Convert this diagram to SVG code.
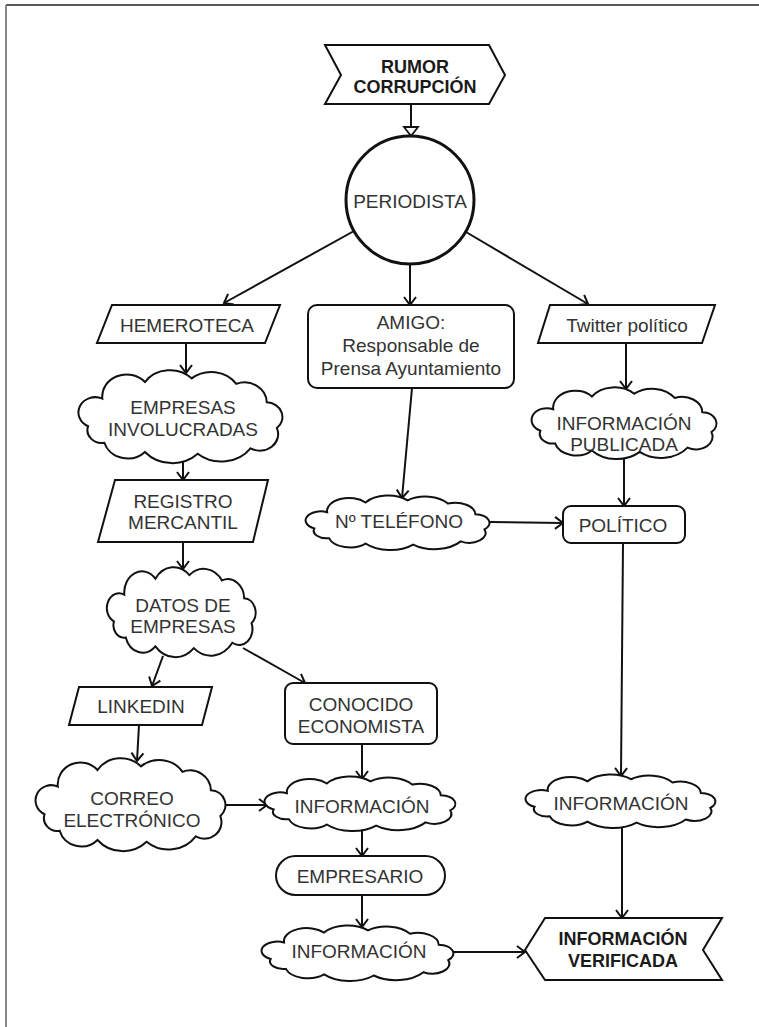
<svg xmlns="http://www.w3.org/2000/svg" xmlns:xlink="http://www.w3.org/1999/xlink" width="759" height="1027" viewBox="0 0 759 1027">
<style>
.shape{fill:#fff;stroke:#111;stroke-width:2}
.cl{fill:#fff;stroke:#111;stroke-width:2;vector-effect:non-scaling-stroke}
.t{font-family:"Liberation Sans",Arial,sans-serif;font-size:19px;fill:#333;text-anchor:middle}
.b{font-weight:bold;fill:#1a1a1a;font-size:18px}
.c{stroke:#111;stroke-width:2;fill:none;marker-end:url(#arr)}
</style>
<defs>
<marker id="arr" markerUnits="userSpaceOnUse" viewBox="-11 -8 13 16" markerWidth="13" markerHeight="16" refX="0" refY="0" orient="auto">
<path d="M-8,-6 L0,0 L-8,6" fill="none" stroke="#111" stroke-width="2"/>
</marker>
<marker id="tri" markerUnits="userSpaceOnUse" viewBox="-12 -9 14 18" markerWidth="14" markerHeight="18" refX="0" refY="0" orient="auto">
<path d="M-9,-7 L0,0 L-9,7 Z" fill="#fff" stroke="#111" stroke-width="1.8"/>
</marker>
<symbol id="cloud" viewBox="0 0 200 100" preserveAspectRatio="none" overflow="visible">
<path class="cl" d="M8,60 A16,16 0 0 1 22,30 A24,24 0 0 1 64,12 A30,30 0 0 1 110,8 A30,30 0 0 1 154,14 A22,22 0 0 1 184,34 A16,16 0 0 1 194,62 A18,18 0 0 1 168,84 A36,36 0 0 1 116,90 A36,36 0 0 1 64,88 A24,24 0 0 1 24,78 A14,14 0 0 1 8,60 Z"/>
</symbol>
</defs>
<rect width="759" height="1027" fill="#fff"/>
<line x1="6" y1="5" x2="759" y2="5" stroke="#222" stroke-width="1.5"/>
<line x1="6" y1="5" x2="6" y2="1027" stroke="#888" stroke-width="2"/>

<g id="connectors">
<line x1="411" y1="104" x2="411" y2="136" stroke="#111" stroke-width="2" marker-end="url(#tri)"/>
<line class="c" x1="354" y1="231" x2="224" y2="303"/>
<line class="c" x1="410" y1="265" x2="410" y2="305"/>
<line class="c" x1="466" y1="232" x2="588" y2="304"/>
<line class="c" x1="186" y1="343" x2="186" y2="373"/>
<line class="c" x1="183" y1="462" x2="183" y2="480"/>
<line class="c" x1="183" y1="542" x2="183" y2="569"/>
<line class="c" x1="163" y1="656" x2="152" y2="686"/>
<line class="c" x1="243" y1="648" x2="305" y2="683"/>
<line class="c" x1="139" y1="725" x2="137" y2="761"/>
<line class="c" x1="225" y1="805" x2="267" y2="805"/>
<line class="c" x1="362" y1="744" x2="362" y2="779"/>
<line class="c" x1="362" y1="830" x2="362" y2="856"/>
<line class="c" x1="362" y1="895" x2="362" y2="927"/>
<line class="c" x1="453" y1="952" x2="525" y2="952"/>
<line class="c" x1="412" y1="388" x2="402" y2="498"/>
<line class="c" x1="626" y1="343" x2="626" y2="389"/>
<line class="c" x1="624" y1="458" x2="624" y2="506"/>
<line class="c" x1="490" y1="522" x2="563" y2="523"/>
<line class="c" x1="623" y1="543" x2="621" y2="776"/>
<line class="c" x1="622" y1="827" x2="622" y2="918"/>
</g>

<g id="rumor">
<path class="shape" d="M325,45 L489,45 L505,75 L489,104 L325,104 L341,75 Z"/>
<text class="t b" x="415" y="73">RUMOR</text>
<text class="t b" x="415" y="93">CORRUPCIÓN</text>
</g>
<g id="periodista">
<circle cx="410" cy="200" r="64" fill="#fff" stroke="#111" stroke-width="3"/>
<text class="t" x="410" y="208">PERIODISTA</text>
</g>
<g id="hemeroteca">
<path class="shape" d="M112,305 L280,305 L265,343 L97,343 Z"/>
<text class="t" x="187" y="332">HEMEROTECA</text>
</g>
<g id="amigo">
<rect class="shape" x="308" y="305" width="206" height="83" rx="9"/>
<text class="t" x="411" y="329">AMIGO:</text>
<text class="t" x="411" y="352">Responsable de</text>
<text class="t" x="411" y="375">Prensa Ayuntamiento</text>
</g>
<g id="twitter">
<path class="shape" d="M550,305 L715,305 L702,343 L538,343 Z"/>
<text class="t" x="627" y="332">Twitter político</text>
</g>
<g id="empresas-involucradas">
<use href="#cloud" x="80" y="371" width="203" height="92"/>
<text class="t" x="183" y="414">EMPRESAS</text>
<text class="t" x="183" y="436">INVOLUCRADAS</text>
</g>
<g id="info-publicada">
<use href="#cloud" x="533" y="388" width="184" height="71"/>
<text class="t" x="624" y="430">INFORMACIÓN</text>
<text class="t" x="624" y="451">PUBLICADA</text>
</g>
<g id="registro">
<path class="shape" d="M115,480 L268,480 L253,542 L98,542 Z"/>
<text class="t" x="183" y="508">REGISTRO</text>
<text class="t" x="183" y="529">MERCANTIL</text>
</g>
<g id="telefono">
<use href="#cloud" x="307" y="496" width="183" height="54"/>
<text class="t" x="399" y="528">Nº TELÉFONO</text>
</g>
<g id="politico">
<rect class="shape" x="563" y="506" width="122" height="37" rx="8"/>
<text class="t" x="623" y="532">POLÍTICO</text>
</g>
<g id="datos">
<use href="#cloud" x="108" y="568" width="148" height="89"/>
<text class="t" x="183" y="612">DATOS DE</text>
<text class="t" x="183" y="633">EMPRESAS</text>
</g>
<g id="linkedin">
<path class="shape" d="M79,687 L212,687 L202,725 L69,725 Z"/>
<text class="t" x="141" y="713">LINKEDIN</text>
</g>
<g id="conocido">
<rect class="shape" x="285" y="683" width="152" height="61" rx="8"/>
<text class="t" x="361" y="711">CONOCIDO</text>
<text class="t" x="361" y="733">ECONOMISTA</text>
</g>
<g id="correo">
<use href="#cloud" x="37" y="759" width="189" height="92"/>
<text class="t" x="132" y="805">CORREO</text>
<text class="t" x="132" y="827">ELECTRÓNICO</text>
</g>
<g id="info-mid">
<use href="#cloud" x="266" y="777" width="190" height="54"/>
<text class="t" x="362" y="813">INFORMACIÓN</text>
</g>
<g id="info-right">
<use href="#cloud" x="527" y="775" width="189" height="53"/>
<text class="t" x="621" y="810">INFORMACIÓN</text>
</g>
<g id="empresario">
<rect class="shape" x="276" y="856" width="169" height="39" rx="19.5"/>
<text class="t" x="360" y="883">EMPRESARIO</text>
</g>
<g id="info-bottom">
<use href="#cloud" x="263" y="926" width="191" height="55"/>
<text class="t" x="359" y="958">INFORMACIÓN</text>
</g>
<g id="verificada">
<path class="shape" d="M525,950 L545,918 L722,918 L703,950 L722,980 L545,980 Z"/>
<text class="t b" x="623" y="945">INFORMACIÓN</text>
<text class="t b" x="623" y="967">VERIFICADA</text>
</g>
</svg>
